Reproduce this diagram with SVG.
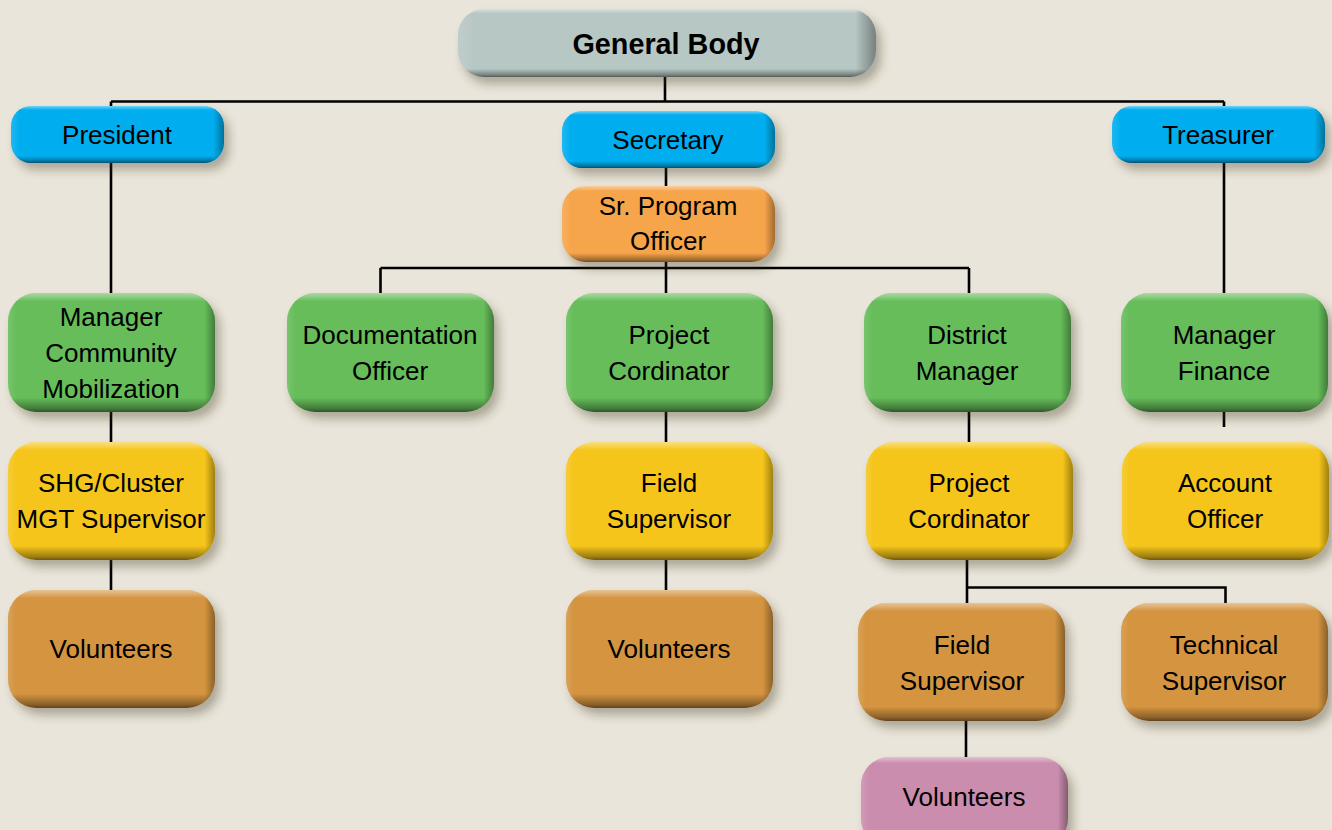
<svg xmlns="http://www.w3.org/2000/svg" width="1332" height="830" viewBox="0 0 1332 830">
<defs>
<filter id="sh" x="-10%" y="-20%" width="130%" height="160%">
<feDropShadow dx="5" dy="7" stdDeviation="5" flood-color="#3a3020" flood-opacity="0.35"/>
</filter>
<linearGradient id="bv" x1="0" y1="0" x2="0" y2="1">
<stop offset="0" stop-color="#fff" stop-opacity="0.45"/>
<stop offset="0.07" stop-color="#fff" stop-opacity="0"/>
<stop offset="0.88" stop-color="#000" stop-opacity="0"/>
<stop offset="0.97" stop-color="#000" stop-opacity="0.35"/>
<stop offset="1" stop-color="#000" stop-opacity="0.55"/>
</linearGradient>
<linearGradient id="bh" x1="0" y1="0" x2="1" y2="0">
<stop offset="0" stop-color="#fff" stop-opacity="0.12"/>
<stop offset="0.04" stop-color="#fff" stop-opacity="0"/>
<stop offset="0.95" stop-color="#000" stop-opacity="0"/>
<stop offset="1" stop-color="#000" stop-opacity="0.35"/>
</linearGradient>
<style>
.t{font-family:"Liberation Sans",Arial,sans-serif;font-size:26px;fill:#000;text-anchor:middle}
.tb{font-family:"Liberation Sans",Arial,sans-serif;font-size:28.8px;font-weight:bold;fill:#000;text-anchor:middle}
.gray{fill:#B7C7C3}.blue{fill:#00AEEF}.orange{fill:#F7A54B}.green{fill:#66BD5A}.yellow{fill:#F5C51A}.brown{fill:#D49441}.pink{fill:#CB8DAE}
.b{filter:url(#sh)}
.v{fill:url(#bv)}.h{fill:url(#bh)}
.c{stroke:#000;stroke-width:2.6;fill:none}
</style>
</defs>
<rect width="1332" height="830" fill="#E9E5DA"/>

<g id="connectors">
<path class="c" d="M665 77V101.5M111 101.5H1224M111 101.5V106M1224 101.5V106"/>
<path class="c" d="M666 168V186"/>
<path class="c" d="M111 163V293M1224 163V293"/>
<path class="c" d="M666 262V293M380.5 268H969M380.5 268V293M969 268V293"/>
<path class="c" d="M111 412V442M666 412V442M969 412V442M1224 412V427"/>
<path class="c" d="M111 560V590M666 560V590"/>
<path class="c" d="M967 560V603M967 587.5H1225.5V603"/>
<path class="c" d="M966 721V757"/>
</g>

<g id="general-body">
<rect class="gray b" x="458" y="9" width="418" height="68" rx="26"/>
<rect class="v" x="458" y="9" width="418" height="68" rx="26"/>
<rect class="h" x="458" y="9" width="418" height="68" rx="26"/>
<text class="tb" x="666" y="54">General Body</text>
</g>

<g id="president">
<rect class="blue b" x="11" y="106" width="213" height="57" rx="20"/>
<rect class="v" x="11" y="106" width="213" height="57" rx="20"/>
<rect class="h" x="11" y="106" width="213" height="57" rx="20"/>
<text class="t" x="117" y="144">President</text>
</g>

<g id="secretary">
<rect class="blue b" x="562" y="111" width="213" height="57" rx="20"/>
<rect class="v" x="562" y="111" width="213" height="57" rx="20"/>
<rect class="h" x="562" y="111" width="213" height="57" rx="20"/>
<text class="t" x="668" y="149">Secretary</text>
</g>

<g id="treasurer">
<rect class="blue b" x="1112" y="106" width="213" height="57" rx="20"/>
<rect class="v" x="1112" y="106" width="213" height="57" rx="20"/>
<rect class="h" x="1112" y="106" width="213" height="57" rx="20"/>
<text class="t" x="1218" y="144">Treasurer</text>
</g>

<g id="sr-program-officer">
<rect class="orange b" x="562" y="186" width="213" height="76" rx="24"/>
<rect class="v" x="562" y="186" width="213" height="76" rx="24"/>
<rect class="h" x="562" y="186" width="213" height="76" rx="24"/>
<text class="t" x="668" y="215">Sr. Program</text>
<text class="t" x="668" y="250">Officer</text>
</g>

<g id="manager-community-mobilization">
<rect class="green b" x="8" y="293" width="207" height="119" rx="28"/>
<rect class="v" x="8" y="293" width="207" height="119" rx="28"/>
<rect class="h" x="8" y="293" width="207" height="119" rx="28"/>
<text class="t" x="111" y="326">Manager</text>
<text class="t" x="111" y="362">Community</text>
<text class="t" x="111" y="398">Mobilization</text>
</g>

<g id="documentation-officer">
<rect class="green b" x="287" y="293" width="207" height="119" rx="28"/>
<rect class="v" x="287" y="293" width="207" height="119" rx="28"/>
<rect class="h" x="287" y="293" width="207" height="119" rx="28"/>
<text class="t" x="390" y="344">Documentation</text>
<text class="t" x="390" y="380">Officer</text>
</g>

<g id="project-cordinator-1">
<rect class="green b" x="566" y="293" width="207" height="119" rx="28"/>
<rect class="v" x="566" y="293" width="207" height="119" rx="28"/>
<rect class="h" x="566" y="293" width="207" height="119" rx="28"/>
<text class="t" x="669" y="344">Project</text>
<text class="t" x="669" y="380">Cordinator</text>
</g>

<g id="district-manager">
<rect class="green b" x="864" y="293" width="207" height="119" rx="28"/>
<rect class="v" x="864" y="293" width="207" height="119" rx="28"/>
<rect class="h" x="864" y="293" width="207" height="119" rx="28"/>
<text class="t" x="967" y="344">District</text>
<text class="t" x="967" y="380">Manager</text>
</g>

<g id="manager-finance">
<rect class="green b" x="1121" y="293" width="207" height="119" rx="28"/>
<rect class="v" x="1121" y="293" width="207" height="119" rx="28"/>
<rect class="h" x="1121" y="293" width="207" height="119" rx="28"/>
<text class="t" x="1224" y="344">Manager</text>
<text class="t" x="1224" y="380">Finance</text>
</g>

<g id="shg-cluster-mgt-supervisor">
<rect class="yellow b" x="8" y="442" width="207" height="118" rx="28"/>
<rect class="v" x="8" y="442" width="207" height="118" rx="28"/>
<rect class="h" x="8" y="442" width="207" height="118" rx="28"/>
<text class="t" x="111" y="492">SHG/Cluster</text>
<text class="t" x="111" y="528">MGT Supervisor</text>
</g>

<g id="field-supervisor-1">
<rect class="yellow b" x="566" y="442" width="207" height="118" rx="28"/>
<rect class="v" x="566" y="442" width="207" height="118" rx="28"/>
<rect class="h" x="566" y="442" width="207" height="118" rx="28"/>
<text class="t" x="669" y="492">Field</text>
<text class="t" x="669" y="528">Supervisor</text>
</g>

<g id="project-cordinator-2">
<rect class="yellow b" x="866" y="442" width="207" height="118" rx="28"/>
<rect class="v" x="866" y="442" width="207" height="118" rx="28"/>
<rect class="h" x="866" y="442" width="207" height="118" rx="28"/>
<text class="t" x="969" y="492">Project</text>
<text class="t" x="969" y="528">Cordinator</text>
</g>

<g id="account-officer">
<rect class="yellow b" x="1122" y="442" width="207" height="118" rx="28"/>
<rect class="v" x="1122" y="442" width="207" height="118" rx="28"/>
<rect class="h" x="1122" y="442" width="207" height="118" rx="28"/>
<text class="t" x="1225" y="492">Account</text>
<text class="t" x="1225" y="528">Officer</text>
</g>

<g id="volunteers-1">
<rect class="brown b" x="8" y="590" width="207" height="118" rx="28"/>
<rect class="v" x="8" y="590" width="207" height="118" rx="28"/>
<rect class="h" x="8" y="590" width="207" height="118" rx="28"/>
<text class="t" x="111" y="658">Volunteers</text>
</g>

<g id="volunteers-2">
<rect class="brown b" x="566" y="590" width="207" height="118" rx="28"/>
<rect class="v" x="566" y="590" width="207" height="118" rx="28"/>
<rect class="h" x="566" y="590" width="207" height="118" rx="28"/>
<text class="t" x="669" y="658">Volunteers</text>
</g>

<g id="field-supervisor-2">
<rect class="brown b" x="858" y="603" width="207" height="118" rx="28"/>
<rect class="v" x="858" y="603" width="207" height="118" rx="28"/>
<rect class="h" x="858" y="603" width="207" height="118" rx="28"/>
<text class="t" x="962" y="654">Field</text>
<text class="t" x="962" y="690">Supervisor</text>
</g>

<g id="technical-supervisor">
<rect class="brown b" x="1121" y="603" width="207" height="118" rx="28"/>
<rect class="v" x="1121" y="603" width="207" height="118" rx="28"/>
<rect class="h" x="1121" y="603" width="207" height="118" rx="28"/>
<text class="t" x="1224" y="654">Technical</text>
<text class="t" x="1224" y="690">Supervisor</text>
</g>

<g id="volunteers-3">
<rect class="pink b" x="861" y="757" width="207" height="90" rx="28"/>
<rect class="v" x="861" y="757" width="207" height="90" rx="28"/>
<rect class="h" x="861" y="757" width="207" height="90" rx="28"/>
<text class="t" x="964" y="806">Volunteers</text>
</g>
</svg>
